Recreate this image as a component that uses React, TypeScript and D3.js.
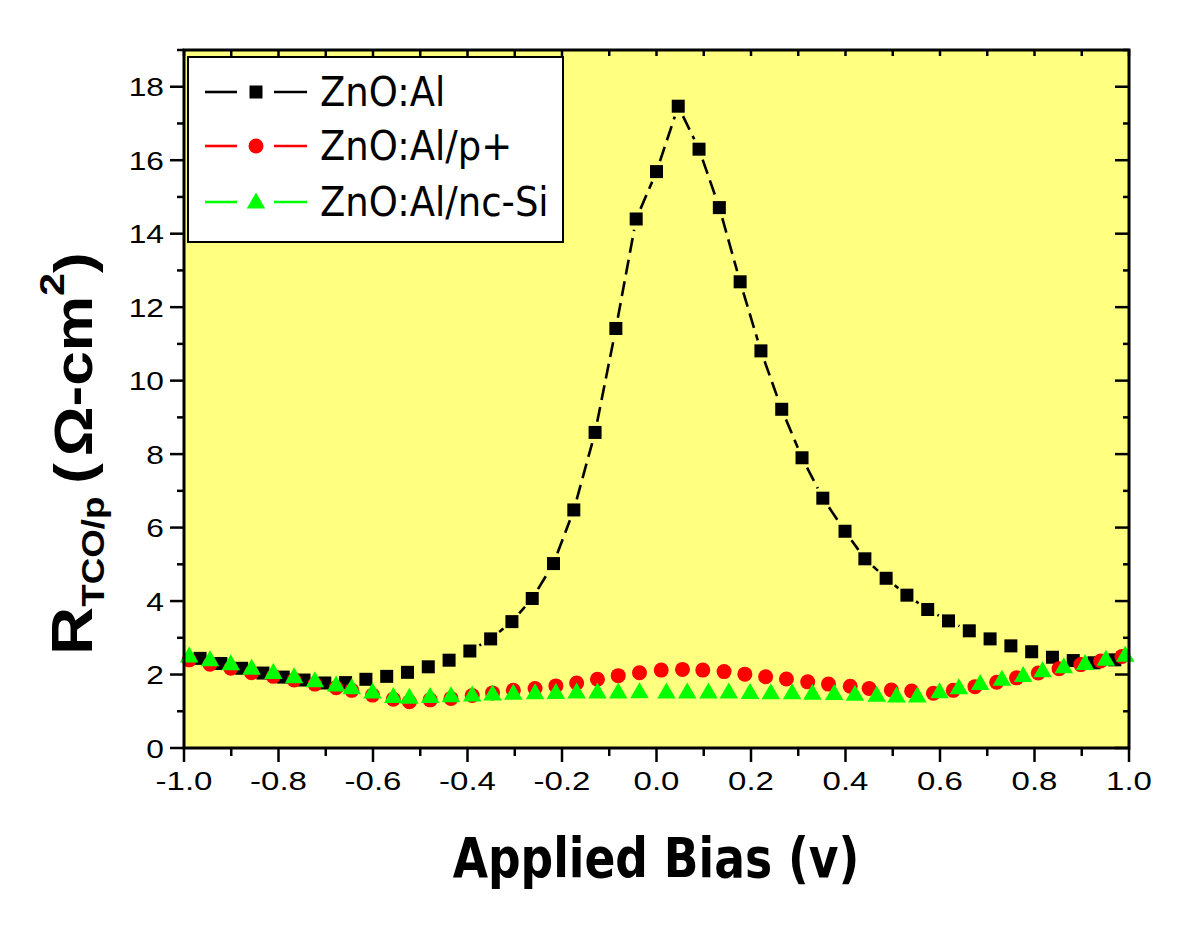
import React from "react";
import * as d3 from "d3";

const xTickValues = [-1.0, -0.8, -0.6, -0.4, -0.2, 0.0, 0.2, 0.4, 0.6, 0.8, 1.0];
const yTickValues = [0, 2, 4, 6, 8, 10, 12, 14, 16, 18];
const seriesNames = ["ZnO:Al", "ZnO:Al/p+", "ZnO:Al/nc-Si"];

const znoAlX = [-0.966, -0.922, -0.878, -0.833, -0.79, -0.746, -0.702, -0.658, -0.615, -0.571, -0.527, -0.483, -0.439, -0.395, -0.351, -0.306, -0.263, -0.218, -0.175, -0.13, -0.086, -0.043, 0.0, 0.046, 0.09, 0.133, 0.177, 0.221, 0.265, 0.308, 0.352, 0.399, 0.441, 0.486, 0.53, 0.574, 0.618, 0.662, 0.706, 0.75, 0.794, 0.838, 0.882, 0.926, 0.97];
const znoAlY = [2.44, 2.3, 2.17, 2.04, 1.93, 1.85, 1.77, 1.78, 1.87, 1.95, 2.06, 2.21, 2.39, 2.64, 2.97, 3.44, 4.07, 5.02, 6.48, 8.59, 11.42, 14.4, 15.69, 17.47, 16.3, 14.71, 12.69, 10.81, 9.22, 7.9, 6.8, 5.9, 5.15, 4.62, 4.16, 3.77, 3.46, 3.19, 2.97, 2.78, 2.62, 2.47, 2.38, 2.32, 2.4];

const pPlusX = [-0.989, -0.945, -0.901, -0.857, -0.811, -0.767, -0.723, -0.678, -0.645, -0.601, -0.557, -0.523, -0.479, -0.435, -0.39, -0.347, -0.303, -0.257, -0.213, -0.169, -0.125, -0.081, -0.036, 0.01, 0.055, 0.098, 0.143, 0.187, 0.231, 0.275, 0.32, 0.364, 0.41, 0.45, 0.497, 0.54, 0.586, 0.628, 0.674, 0.72, 0.762, 0.808, 0.852, 0.898, 0.94, 0.985];
const pPlusY = [2.4, 2.28, 2.17, 2.05, 1.95, 1.85, 1.74, 1.64, 1.57, 1.44, 1.33, 1.26, 1.31, 1.35, 1.43, 1.5, 1.57, 1.62, 1.69, 1.77, 1.87, 1.97, 2.05, 2.12, 2.14, 2.12, 2.08, 2.01, 1.94, 1.88, 1.8, 1.74, 1.68, 1.62, 1.58, 1.55, 1.49, 1.57, 1.67, 1.79, 1.91, 2.04, 2.16, 2.27, 2.37, 2.49];

const ncSiX = [-0.989, -0.945, -0.901, -0.857, -0.811, -0.767, -0.723, -0.678, -0.645, -0.601, -0.557, -0.523, -0.479, -0.435, -0.39, -0.347, -0.303, -0.257, -0.213, -0.169, -0.125, -0.081, -0.036, 0.021, 0.065, 0.11, 0.153, 0.198, 0.242, 0.287, 0.33, 0.376, 0.42, 0.466, 0.508, 0.552, 0.599, 0.64, 0.685, 0.731, 0.776, 0.817, 0.862, 0.907, 0.951, 0.992];
const ncSiY = [2.5, 2.4, 2.29, 2.17, 2.05, 1.94, 1.83, 1.71, 1.64, 1.52, 1.4, 1.38, 1.4, 1.42, 1.44, 1.47, 1.49, 1.5, 1.51, 1.52, 1.52, 1.52, 1.53, 1.52, 1.52, 1.52, 1.52, 1.51, 1.5, 1.5, 1.49, 1.48, 1.46, 1.43, 1.41, 1.41, 1.53, 1.64, 1.75, 1.87, 1.97, 2.1, 2.21, 2.3, 2.41, 2.52];

const L = 184, R = 1129, T = 50, B = 748;

function gapSegments(px: number[], py: number[], gap: number) {
  const out: [number, number, number, number][] = [];
  for (let i = 0; i < px.length - 1; i++) {
    const dx = px[i + 1] - px[i];
    const dy = py[i + 1] - py[i];
    const len = Math.hypot(dx, dy);
    if (len <= 2 * gap + 1) continue;
    const ux = dx / len, uy = dy / len;
    out.push([px[i] + ux * gap, py[i] + uy * gap, px[i + 1] - ux * gap, py[i + 1] - uy * gap]);
  }
  return out;
}

function Marker({ kind, cx, cy, color }: { kind: string; cx: number; cy: number; color: string }) {
  if (kind === "square") return <rect x={cx - 6.5} y={cy - 6.5} width={13} height={13} fill={color} />;
  if (kind === "circle") return <circle cx={cx} cy={cy} r={7.5} fill={color} />;
  const h = 16, w = 18.5;
  return <path d={`M${cx},${cy - h * 0.6}L${cx + w / 2},${cy + h * 0.4}L${cx - w / 2},${cy + h * 0.4}Z`} fill={color} />;
}

const tickFont = "Liberation Sans, Arial, sans-serif";

export default function App() {
  const x = d3.scaleLinear().domain([-1, 1]).range([L, R]);
  const y = d3.scaleLinear().domain([0, 19]).range([B, T]);

  const series = [
    { name: seriesNames[0], xs: znoAlX, ys: znoAlY, color: "#000000", kind: "square", gap: 11 },
    { name: seriesNames[1], xs: pPlusX, ys: pPlusY, color: "#ff0000", kind: "circle", gap: 15 },
    { name: seriesNames[2], xs: ncSiX, ys: ncSiY, color: "#00ff00", kind: "triangle", gap: 15 },
  ];

  const xMinor = d3.range(-10, 11).map((i) => i / 10);
  const yMinor = d3.range(0, 20);

  return (
    <svg width={1200} height={928} style={{ position: "absolute", left: 0, top: 0, background: "#ffffff" }}>
      <rect x={L} y={T} width={R - L} height={B - T} fill="#ffff80" />

      {series.map((s, si) => {
        const px = s.xs.map((v) => x(v));
        const py = s.ys.map((v) => y(v));
        const segs = gapSegments(px, py, s.gap);
        return (
          <g key={si}>
            {segs.map((sg, i) => (
              <line key={i} x1={sg[0]} y1={sg[1]} x2={sg[2]} y2={sg[3]} stroke={s.color} strokeWidth={2.6} strokeDasharray="15 7" />
            ))}
            {px.map((cx, i) => (
              <Marker key={i} kind={s.kind} cx={cx} cy={py[i]} color={s.color} />
            ))}
          </g>
        );
      })}

      <rect x={L} y={T} width={R - L} height={B - T} fill="none" stroke="#000" strokeWidth={3} />

      {xMinor.map((v, i) => {
        const major = Math.abs(Math.round(v * 10)) % 2 === 0;
        return (
          <g key={"xt" + i}>
            <line x1={x(v)} x2={x(v)} y1={B} y2={B + (major ? 14 : 8)} stroke="#000" strokeWidth={2.5} />
            <line x1={x(v)} x2={x(v)} y1={T} y2={T + 6} stroke="#000" strokeWidth={2.5} />
          </g>
        );
      })}
      {yMinor.map((v, i) => {
        const major = v % 2 === 0;
        return (
          <g key={"yt" + i}>
            <line x1={L} x2={L - (major ? 14 : 7)} y1={y(v)} y2={y(v)} stroke="#000" strokeWidth={2.5} />
            <line x1={R} x2={R - (major ? 14 : 6)} y1={y(v)} y2={y(v)} stroke="#000" strokeWidth={2.5} />
          </g>
        );
      })}

      {xTickValues.map((v, i) => (
        <text key={"xl" + i} transform={`translate(${x(v)},790) scale(1.27,1)`} textAnchor="middle" fontFamily={tickFont} fontSize={26}>
          {v.toFixed(1)}
        </text>
      ))}
      {yTickValues.map((v, i) => (
        <text key={"yl" + i} transform={`translate(164,${y(v) + 9.5}) scale(1.22,1)`} textAnchor="end" fontFamily={tickFont} fontSize={26}>
          {String(v)}
        </text>
      ))}

      <text transform="translate(656,877) scale(0.97,1.18)" textAnchor="middle" fontFamily="DejaVu Sans, sans-serif" fontWeight="bold" fontSize={47}>
        Applied Bias (v)
      </text>

      <text transform="translate(92,655) rotate(-90) scale(1.15,1)" fontFamily={tickFont} fontWeight="bold">
        <tspan fontSize={58}>R</tspan>
        <tspan fontSize={32} dy={12}>TCO/p</tspan>
        <tspan fontSize={54} dy={-12}> </tspan>
        <tspan fontSize={54} dx={-4}>(</tspan>
        <tspan fontSize={54} dx={6}>Ω-cm</tspan>
        <tspan fontSize={36} dy={-28}>2</tspan>
        <tspan fontSize={54} dy={28}>)</tspan>
      </text>

      <rect x={188} y={57} width={375} height={185} fill="#ffffff" stroke="#000" strokeWidth={2} />
      {series.map((s, i) => {
        const cy = [92, 146, 202][i];
        return (
          <g key={"lg" + i}>
            <line x1={205} x2={237} y1={cy} y2={cy} stroke={s.color} strokeWidth={2.6} />
            <line x1={274} x2={307} y1={cy} y2={cy} stroke={s.color} strokeWidth={2.6} />
            <Marker kind={s.kind} cx={256} cy={cy} color={s.color} />
            <text transform={`translate(320,${cy + 14}) scale(1,1.08)`} fontFamily="DejaVu Sans, sans-serif" fontSize={37}>
              {s.name}
            </text>
          </g>
        );
      })}
    </svg>
  );
}
